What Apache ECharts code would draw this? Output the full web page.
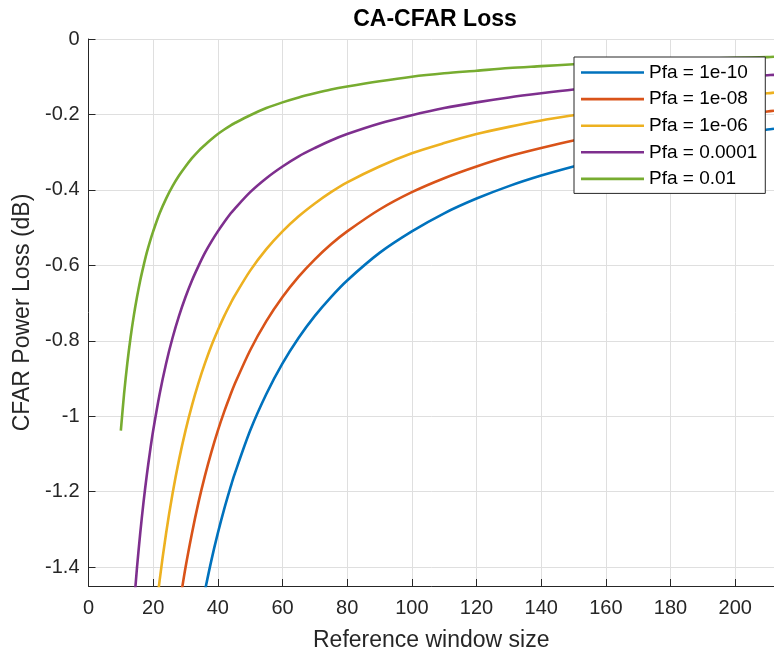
<!DOCTYPE html>
<html>
<head>
<meta charset="utf-8">
<title>CA-CFAR Loss</title>
<script src="https://cdn.jsdelivr.net/npm/echarts@6/dist/echarts.min.js"></script>
<style>
  html, body { margin: 0; padding: 0; background: #fff; }
  #chart { width: 774px; height: 657px; }
</style>
</head>
<body>
<div id="chart"></div>
<script>
// Reference window sizes (number of training cells)
const windowSizes = [
  10, 11, 12, 13, 14, 15, 16, 17, 18, 19, 20,
  22, 24, 26, 28, 30, 32, 34, 36, 38, 40,
  42, 44, 45, 50, 55, 60, 65, 70, 75,
  80, 90, 100, 110, 120, 130, 140, 150, 160, 170, 180, 190, 200, 210, 212
];

// CFAR power loss (dB) for each false-alarm probability
const lossPfa1e10 = [
  null, null, null, null, null, null, null, null, null, null, null,
  null, null, null, null, null, null, null, -1.463, -1.382, -1.310,
  -1.245, -1.186, -1.158, -1.038, -0.941, -0.860, -0.792, -0.734, -0.684,
  -0.640, -0.567, -0.510, -0.462, -0.423, -0.390, -0.362, -0.338, -0.316, -0.297, -0.281, -0.266, -0.252, -0.240, -0.238
];
const lossPfa1e8 = [
  null, null, null, null, null, null, null, null, null, null, null,
  null, null, null, -1.507, -1.401, -1.310, -1.229, -1.158, -1.095, -1.038,
  -0.987, -0.941, -0.919, -0.825, -0.748, -0.684, -0.630, -0.584, -0.544,
  -0.510, -0.452, -0.406, -0.369, -0.338, -0.311, -0.289, -0.269, -0.252, -0.237, -0.224, -0.212, -0.202, -0.192, -0.190
];
const lossPfa1e6 = [
  null, null, null, null, null, null, null, null, null, null, -1.586,
  -1.435, -1.310, -1.205, -1.115, -1.038, -0.971, -0.912, -0.860, -0.813, -0.772,
  -0.734, -0.700, -0.684, -0.614, -0.557, -0.510, -0.470, -0.436, -0.406,
  -0.380, -0.338, -0.303, -0.276, -0.252, -0.233, -0.216, -0.202, -0.189, -0.178, -0.168, -0.159, -0.151, -0.144, -0.142
];
const lossPfa1e4 = [
  null, null, null, null, -1.507, -1.401, -1.310, -1.229, -1.158, -1.095, -1.038,
  -0.941, -0.860, -0.792, -0.734, -0.684, -0.640, -0.602, -0.567, -0.537, -0.510,
  -0.485, -0.462, -0.452, -0.406, -0.369, -0.338, -0.311, -0.289, -0.269,
  -0.252, -0.224, -0.202, -0.183, -0.168, -0.155, -0.144, -0.134, -0.126, -0.118, -0.112, -0.106, -0.100, -0.096, -0.095
];
const lossPfa1e2 = [
  -1.038, -0.941, -0.860, -0.792, -0.734, -0.684, -0.640, -0.602, -0.567, -0.537, -0.510,
  -0.462, -0.423, -0.390, -0.362, -0.338, -0.316, -0.297, -0.281, -0.266, -0.252,
  -0.240, -0.229, -0.224, -0.202, -0.183, -0.168, -0.155, -0.144, -0.134,
  -0.126, -0.112, -0.100, -0.091, -0.084, -0.077, -0.072, -0.067, -0.063, -0.059, -0.056, -0.053, -0.050, -0.048, -0.047
];

const seriesNames = ['Pfa = 1e-10', 'Pfa = 1e-08', 'Pfa = 1e-06', 'Pfa = 0.0001', 'Pfa = 0.01'];
const seriesValues = [lossPfa1e10, lossPfa1e8, lossPfa1e6, lossPfa1e4, lossPfa1e2];
const seriesColors = ['#0072BD', '#D95319', '#EDB120', '#7E2F8E', '#77AC30'];

const FONT = "'Liberation Sans', Arial, Helvetica, sans-serif";
const AXIS_COLOR = '#262626';
const GRID_COLOR = '#dfdfdf';

function toPairs(values) {
  const pairs = [];
  values.forEach((v, i) => { if (v !== null) pairs.push([windowSizes[i], v]); });
  return pairs;
}

const chart = echarts.init(document.getElementById('chart'), null, { renderer: 'canvas' });

chart.setOption({
  animation: false,
  backgroundColor: '#ffffff',
  textStyle: { fontFamily: FONT },
  graphic: [{
    type: 'text',
    x: 435,
    y: 20,
    style: {
      text: 'CA-CFAR Loss',
      font: "bold 23px " + FONT,
      fill: '#000000',
      textAlign: 'center',
      textVerticalAlign: 'middle'
    }
  }],
  grid: { left: 88.5, right: 0, top: 39, bottom: 70, containLabel: false },
  legend: {
    orient: 'vertical',
    left: 574,
    top: 57,
    padding: [6, 8, 5, 7],
    icon: 'rect',
    itemWidth: 63,
    itemHeight: 2.6,
    itemGap: 7.6,
    backgroundColor: '#ffffff',
    borderColor: AXIS_COLOR,
    borderWidth: 1,
    borderRadius: 0,
    z: 10,
    textStyle: { fontSize: 19, color: '#000000', fontFamily: FONT },
    data: seriesNames
  },
  xAxis: {
    type: 'value',
    min: 0,
    max: 212,
    interval: 20,
    name: 'Reference window size',
    nameLocation: 'middle',
    nameGap: 43,
    nameTextStyle: { fontSize: 23, color: AXIS_COLOR, fontFamily: FONT },
    axisLine: { show: true, onZero: false, lineStyle: { color: AXIS_COLOR, width: 1 } },
    axisTick: { show: true, inside: true, length: 7, lineStyle: { color: AXIS_COLOR } },
    axisLabel: { fontSize: 20, color: AXIS_COLOR, margin: 12, showMaxLabel: false, fontFamily: FONT },
    splitLine: { show: true, lineStyle: { color: GRID_COLOR, width: 1 } }
  },
  yAxis: {
    type: 'value',
    min: -1.45,
    max: 0,
    splitNumber: 7,
    name: 'CFAR Power Loss (dB)',
    nameLocation: 'middle',
    nameGap: 54,
    nameTextStyle: { fontSize: 23, color: AXIS_COLOR, fontFamily: FONT },
    axisLine: { show: true, onZero: false, lineStyle: { color: AXIS_COLOR, width: 1 } },
    axisTick: { show: true, inside: true, length: 7, lineStyle: { color: AXIS_COLOR } },
    axisLabel: { fontSize: 20, color: AXIS_COLOR, margin: 9, showMinLabel: false, fontFamily: FONT },
    splitLine: { show: true, lineStyle: { color: GRID_COLOR, width: 1 } }
  },
  series: seriesNames.map((name, k) => ({
    name: name,
    type: 'line',
    data: toPairs(seriesValues[k]),
    showSymbol: false,
    symbol: 'none',
    smooth: 0.3,
    clip: true,
    color: seriesColors[k],
    lineStyle: { color: seriesColors[k], width: 2.6, join: 'round' },
    emphasis: { disabled: true }
  }))
});
</script>
</body>
</html>
